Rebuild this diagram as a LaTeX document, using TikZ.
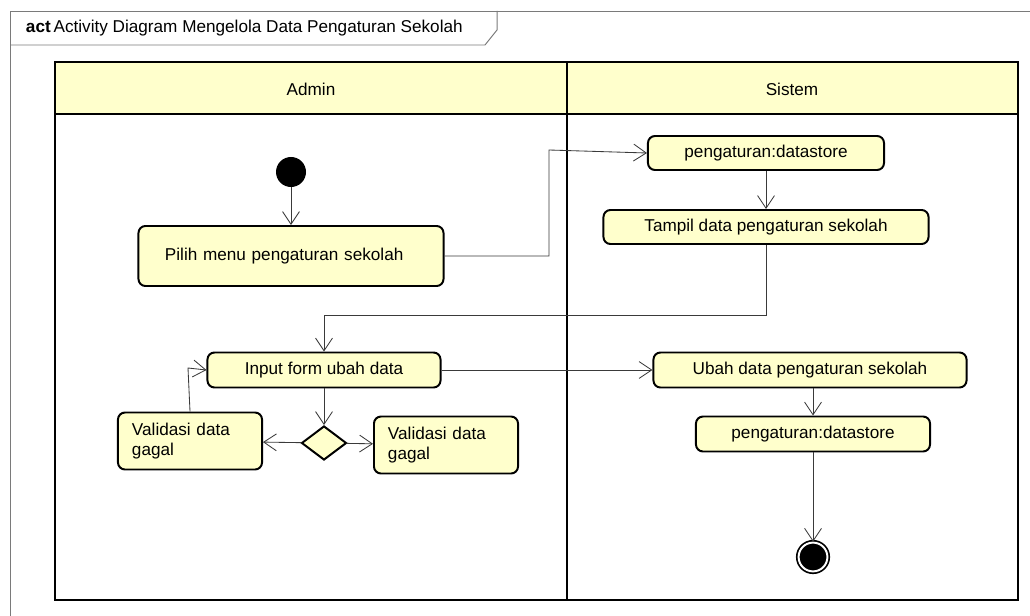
\documentclass[tikz,border=0pt]{standalone}
\usepackage{fontspec}
\setmainfont{Liberation Sans}
\usetikzlibrary{arrows.meta,shapes.geometric}
\definecolor{actfill}{HTML}{FFFFCC}
\definecolor{flowline}{HTML}{3A3A3A}
\definecolor{framegray}{HTML}{7A7A7A}
\begin{document}
\begin{tikzpicture}[x=0.025cm, y=-0.025cm]
      \useasboundingbox (0,0) rectangle (1030,616);
      \tikzstyle{every node} = [font=\fontsize{12.2}{14.5}\selectfont]
      \tikzstyle{action} = [draw, line width=1.4pt, fill=actfill, rounded corners=5pt, inner sep=0pt]
      \tikzstyle{twoline} = [action, align=left, text width=29mm, inner xsep=3.5mm, minimum height=14.25mm]
      \tikzstyle{flow} = [draw=flowline, line width=0.6pt, ->, >={Straight Barb[length=9pt,width=12pt]}]
      % frame
      \draw[framegray, line width=0.7pt] (10,625) -- (10,11) -- (1040,11);
      \draw[framegray, line width=0.7pt] (10,45) -- (485,45) -- (497,30) -- (497,11);
      \node[anchor=west] (title) at (21,28) {\textbf{act}\,Activity Diagram Mengelola Data Pengaturan Sekolah};
      % swimlanes
      \fill[actfill] (55,62) rectangle (1018,114);
      \draw[line width=1.8pt] (55,62) rectangle (1018,600);
      \draw[line width=1.8pt] (55,114) -- (1018,114);
      \draw[line width=1.8pt] (567,62) -- (567,600);
      \node (admin) at (311,89) {Admin};
      \node (sistem) at (792,89) {Sistem};
      % admin lane
      \node[circle, fill=black, minimum size=7.5mm, inner sep=0pt] (start) at (291,172) {};
      \node[action, minimum width=76.25mm, minimum height=15mm, text width=63mm, align=left, inner xsep=6.5mm] (pilih) at (291,256) {Pilih menu pengaturan sekolah};
      \node[action, minimum width=58.25mm, minimum height=8.75mm] (input) at (324,370) {Input form ubah data};
      \node[diamond, draw, line width=1.4pt, fill=actfill, minimum width=11.25mm, minimum height=8.5mm, inner sep=0pt] (cek) at (324,443) {};
      \node[twoline] (gagalA) at (190,441) {Validasi data\\gagal};
      \node[twoline] (gagalB) at (446,445) {Validasi data\\gagal};
      % sistem lane
      \node[action, minimum width=59mm, minimum height=8.5mm] (ds1) at (766,153) {pengaturan:datastore};
      \node[action, minimum width=81.25mm, minimum height=8.5mm] (tampil) at (766,227) {Tampil data pengaturan sekolah};
      \node[action, minimum width=78.25mm, minimum height=8.75mm] (ubah) at (810,370) {Ubah data pengaturan sekolah};
      \node[action, minimum width=58.5mm, minimum height=8.75mm] (ds2) at (813,434) {pengaturan:datastore};
      \node[circle, draw, fill=black, line width=1.2pt, double=white, double distance=1.4pt, minimum size=7.2mm, inner sep=0pt] (stop) at (813,557) {};
      % flows
      \path[flow]
      (start) edge (pilih)
      (ds1) edge (tampil)
      (input) edge (cek)
      (cek) edge (gagalA)
      (cek) edge (gagalB)
      (input) edge (ubah)
      (ds2) edge (stop);
      \draw[flow] (ubah.south -| ds2.north) -- (ds2.north);
      \draw[flow] (pilih.east) -- (549,256) -- (549,150) -- (ds1.west);
      \draw[flow] (tampil.south) -- (766,315) -- (324,315) -- (input.north);
      \draw[flow] (gagalA.north) -- (188,368) -- (input.west);
\end{tikzpicture}
\end{document}
